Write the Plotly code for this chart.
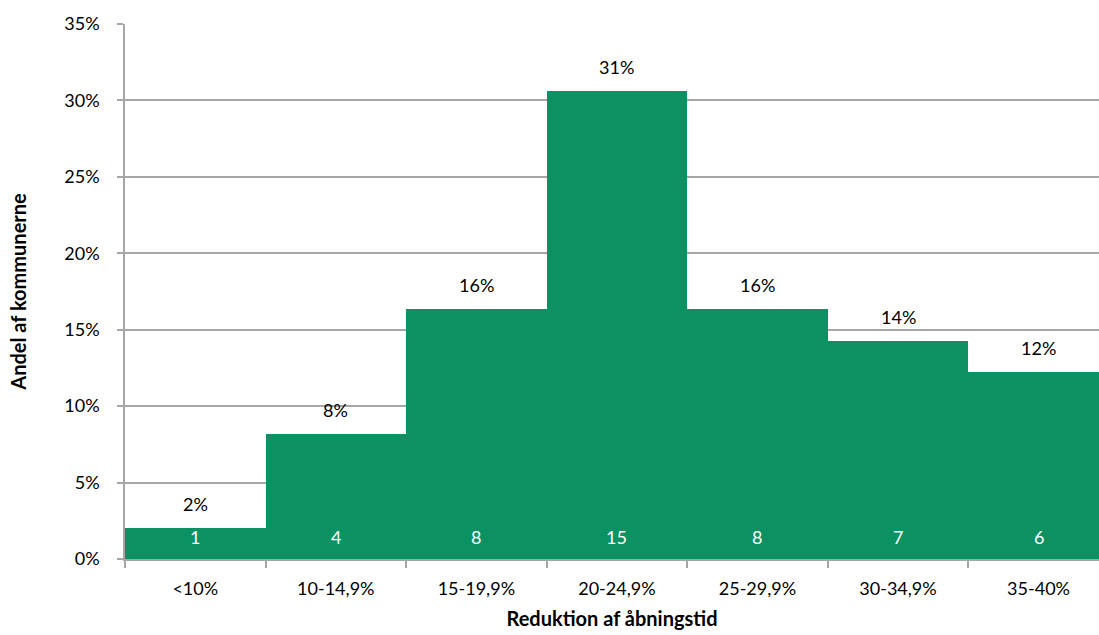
import plotly.graph_objects as go

# Reduction intervals and number of municipalities in each
categories = ["<10%", "10-14,9%", "15-19,9%", "20-24,9%", "25-29,9%", "30-34,9%", "35-40%"]
counts = [1, 4, 8, 15, 8, 7, 6]
y_ticks = [0, 0.05, 0.10, 0.15, 0.20, 0.25, 0.30, 0.35]
y_tick_labels = ["0%", "5%", "10%", "15%", "20%", "25%", "30%", "35%"]

total = sum(counts)
shares = [c / total for c in counts]

GREEN = "#0B9162"
GRID = "#A6A6A6"
FONT = "Lato, 'Open Sans', sans-serif"

fig = go.Figure()
fig.add_trace(go.Bar(
    x=categories,
    y=shares,
    width=1.0,
    marker=dict(color=GREEN, line=dict(width=0)),
    hoverinfo="skip",
))

annotations = []
for cat, share, cnt in zip(categories, shares, counts):
    # share label above the bar
    annotations.append(dict(
        x=cat, y=share, xref="x", yref="y", text=f"{share * 100:.0f}%",
        showarrow=False, yanchor="bottom", yshift=11,
        font=dict(family=FONT, size=18, color="#000000"),
    ))
    # count label inside the bar, near its base
    annotations.append(dict(
        x=cat, y=0, xref="x", yref="y", text=str(cnt),
        showarrow=False, yanchor="bottom", yshift=9,
        font=dict(family=FONT, size=18, color="#FFFFFF"),
    ))

fig.update_layout(
    width=1099,
    height=635,
    margin=dict(l=125, r=0, t=24, b=76),
    paper_bgcolor="white",
    plot_bgcolor="white",
    showlegend=False,
    bargap=0,
    font=dict(family=FONT, size=18, color="#000000"),
    annotations=annotations,
    xaxis=dict(
        type="category",
        range=[-0.5, 6.43],
        tickson="boundaries",
        ticks="outside",
        ticklen=7,
        tickcolor=GRID,
        tickwidth=1.5,
        ticklabelstandoff=13,
        showgrid=False,
        showline=True,
        linecolor=GRID,
        linewidth=1.5,
        tickfont=dict(family=FONT, size=18),
        title=dict(text="<b>Reduktion af åbningstid</b>", font=dict(family=FONT, size=20), standoff=14),
    ),
    yaxis=dict(
        range=[0, 0.35],
        tickvals=y_ticks,
        ticktext=y_tick_labels,
        ticks="outside",
        ticklen=6,
        tickcolor=GRID,
        tickwidth=1.5,
        ticklabelstandoff=14,
        showgrid=True,
        gridcolor=GRID,
        gridwidth=1.5,
        showline=True,
        linecolor=GRID,
        linewidth=1.5,
        zeroline=False,
        tickfont=dict(family=FONT, size=18),
        title=dict(text="<b>Andel af kommunerne</b>", font=dict(family=FONT, size=20), standoff=32),
    ),
)

fig.write_html("out.html")
